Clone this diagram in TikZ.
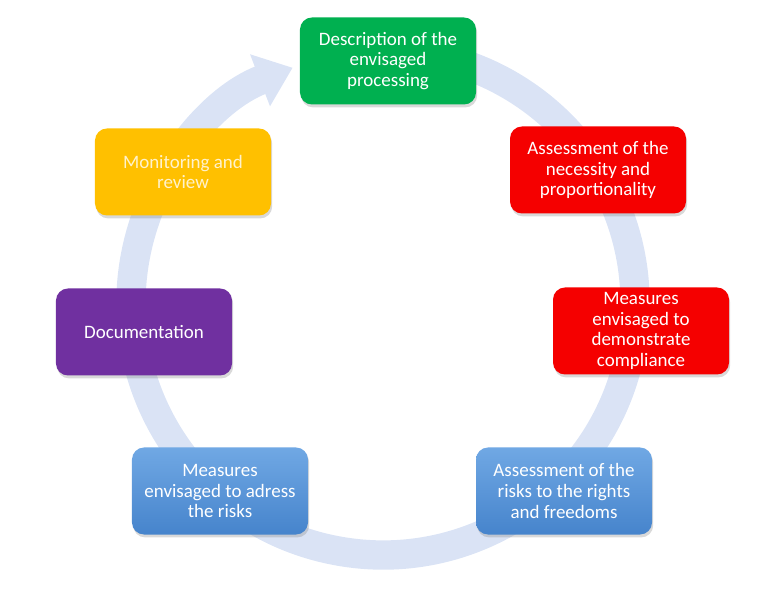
\documentclass[tikz,border=0pt]{standalone}
\usepackage{fontspec}
\setmainfont{Carlito}
\usetikzlibrary{arrows.meta,shadows}
\definecolor{stagegreen}{RGB}{0,176,80}
\definecolor{stagered}{RGB}{245,0,0}
\definecolor{stageorange}{RGB}{255,192,0}
\definecolor{stagepurple}{RGB}{112,48,160}
\definecolor{stageblueA}{RGB}{112,168,228}
\definecolor{stageblueB}{RGB}{70,132,204}
\definecolor{ringblue}{RGB}{218,227,245}
\definecolor{paleyellow}{RGB}{255,242,204}

\begin{document}
\begin{tikzpicture}[
    x=0.03cm, y=0.03cm,
    stage/.style={rounded corners=0.36cm, minimum width=5.28cm, minimum height=2.61cm, align=center, text=white,
        font=\fontsize{16.2}{17.8}\selectfont, drop shadow={opacity=0.3, shadow xshift=1pt, shadow yshift=-2.5pt}},
    bluebox/.style={top color=stageblueA, bottom color=stageblueB},
    ring/.style={-{Triangle[width=1.6cm,length=1.05cm]}, line width=0.88cm, draw=ringblue}
]
\useasboundingbox (0,0) rectangle (777,612);
% cycle arrow behind the stages
\draw[ring] ([shift={(383,309)}]80:252) arc[start angle=80, end angle=-249, radius=252];
\node[stage, fill=stagegreen] (describe) at (388,551) {Description of the\\envisaged\\processing};
\node[stage, fill=stagered] (necessity) at (598,442) {Assessment of the\\necessity and\\proportionality};
\node[stage, fill=stagered] (compliance) at (641,281) {Measures\\envisaged to\\demonstrate\\compliance};
\node[stage, bluebox] (risks) at (564,121) {Assessment of the\\risks to the rights\\and freedoms};
\node[stage, bluebox] (measures) at (220,121) {Measures\\envisaged to adress\\the risks};
\node[stage, fill=stagepurple] (docs) at (144,280) {Documentation};
\node[stage, fill=stageorange, text=paleyellow] (monitor) at (183,440) {Monitoring and\\review};
\end{tikzpicture}
\end{document}
